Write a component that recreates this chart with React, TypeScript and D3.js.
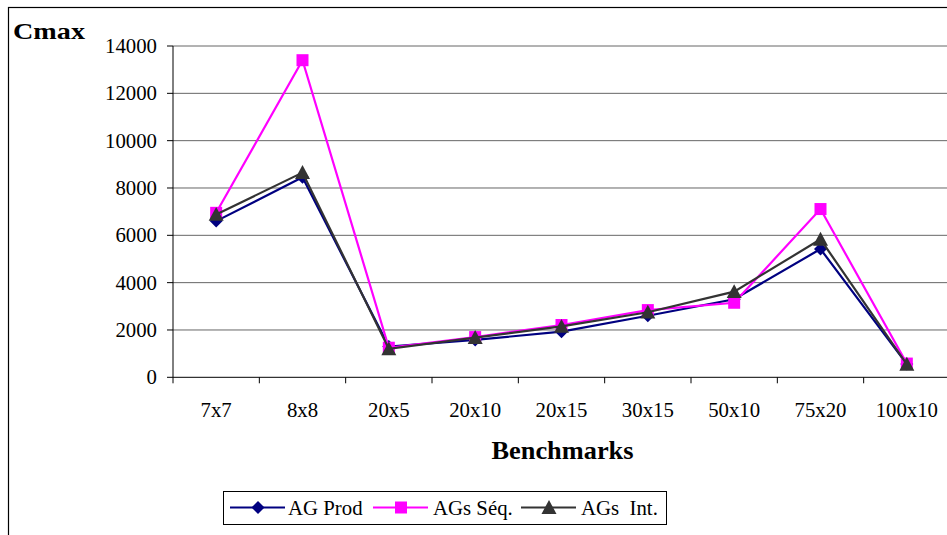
import React from "react";
import * as d3 from "d3";

const categories = ["7x7", "8x8", "20x5", "20x10", "20x15", "30x15", "50x10", "75x20", "100x10"];
const agProd = [6600, 8450, 1300, 1580, 1930, 2600, 3300, 5420, 560];
const agsSeq = [6950, 13400, 1250, 1700, 2210, 2840, 3150, 7110, 580];
const agsInt = [6880, 8650, 1200, 1680, 2150, 2750, 3620, 5830, 550];
const yTicks = [0, 2000, 4000, 6000, 8000, 10000, 12000, 14000];
const seriesNames = ["AG Prod", "AGs Séq.", "AGs  Int."];

const W = 947;
const H = 535;
const left = 173;
const right = 950;
const top = 46;
const bottom = 377.3;
const font = "Liberation Serif";

const colors = ["#000080", "#FF00FF", "#333333"];

function Marker({ kind, x, y, color }: { kind: number; x: number; y: number; color: string }) {
  if (kind === 0) {
    const s = 6.5;
    return <path d={`M${x},${y - s}L${x + s},${y}L${x},${y + s}L${x - s},${y}Z`} fill={color} />;
  }
  if (kind === 1) {
    const s = 6;
    return <rect x={x - s} y={y - s} width={2 * s} height={2 * s} fill={color} />;
  }
  const s = 7.5;
  return <path d={`M${x},${y - s}L${x + s},${y + s * 0.85}L${x - s},${y + s * 0.85}Z`} fill={color} />;
}

export default function App() {
  const x = d3.scaleBand().domain(categories).range([left, right]);
  const y = d3.scaleLinear().domain([0, 14000]).range([bottom, top]);
  const data = [agProd, agsSeq, agsInt];
  const line = d3
    .line<number>()
    .x((_, i) => (x(categories[i]) as number) + x.bandwidth() / 2)
    .y((d) => y(d));

  const bounds = categories.map((c) => x(c) as number).concat([right]);

  const legendItems = [
    { lx: 230, tx: 288 },
    { lx: 373, tx: 433 },
    { lx: 521, tx: 581 },
  ];
  const ts = { fontFamily: font };

  return (
    <svg
      width={W}
      height={H}
      style={{ position: "absolute", left: 0, top: 0, background: "#fff", fontFamily: font }}
    >
      <rect x={8.5} y={7.5} width={1000} height={600} fill="none" stroke="#000" strokeWidth={1.2} />
      {yTicks.map((t) => (
        <line key={"g" + t} x1={left} x2={right} y1={y(t)} y2={y(t)} stroke={t === 0 ? "#000" : "#666"} strokeWidth={1} />
      ))}
      <line x1={left} x2={left} y1={top} y2={bottom} stroke="#000" strokeWidth={1} />
      {yTicks.map((t) => (
        <g key={"yt" + t}>
          <line x1={left - 6} x2={left} y1={y(t)} y2={y(t)} stroke="#000" />
          <text x={157} y={y(t)} dy="0.34em" textAnchor="end" fontSize={20.8} fill="#000" style={ts}>
            {t}
          </text>
        </g>
      ))}
      {bounds.map((b, i) => (
        <line key={"xt" + i} x1={b} x2={b} y1={bottom} y2={bottom + 6} stroke="#000" />
      ))}
      {categories.map((c) => (
        <text
          key={"xl" + c}
          x={(x(c) as number) + x.bandwidth() / 2}
          y={416.5}
          textAnchor="middle"
          fontSize={20.8}
          fill="#000"
          style={ts}
        >
          {c}
        </text>
      ))}
      {data.map((vals, si) => (
        <g key={"s" + si}>
          <path d={line(vals) || ""} fill="none" stroke={colors[si]} strokeWidth={2.2} />
          {vals.map((v, i) => (
            <Marker
              key={i}
              kind={si}
              x={(x(categories[i]) as number) + x.bandwidth() / 2}
              y={y(v)}
              color={colors[si]}
            />
          ))}
        </g>
      ))}
      <text x={13} y={38.5} fontSize={23} fontWeight="bold" fill="#000" style={ts} textLength={72} lengthAdjust="spacingAndGlyphs">
        Cmax
      </text>
      <text x={491.5} y={458.5} fontSize={25} fontWeight="bold" fill="#000" style={ts} textLength={142} lengthAdjust="spacingAndGlyphs">
        Benchmarks
      </text>
      <rect x={223.5} y={491.5} width={443} height={33} fill="#fff" stroke="#000" strokeWidth={1} />
      {legendItems.map((it, i) => (
        <g key={"lg" + i}>
          <line x1={it.lx} x2={it.lx + 55} y1={507.5} y2={507.5} stroke={colors[i]} strokeWidth={2.2} />
          <Marker kind={i} x={it.lx + 28} y={507.5} color={colors[i]} />
          <text x={it.tx} y={514.5} fontSize={20.8} fill="#000" style={{ ...ts, whiteSpace: "pre" }}>
            {seriesNames[i]}
          </text>
        </g>
      ))}
    </svg>
  );
}
